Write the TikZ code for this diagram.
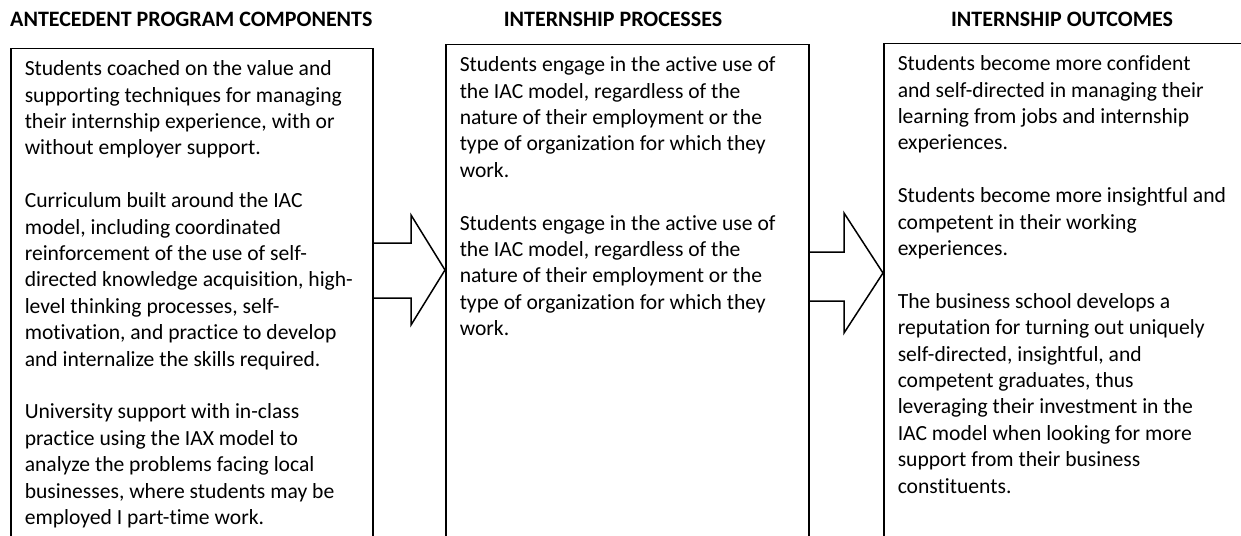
\documentclass[tikz,border=0pt]{standalone}
\usepackage{fontspec}
\setmainfont[Ligatures=NoCommon]{Carlito}
\usetikzlibrary{calc}

% column boxes run off the bottom of the page, so the minipage is taller than the page
\newcommand{\coltext}[2]{%
  \begin{minipage}[t][640pt][t]{#1}\fontsize{21.6}{26.4}\selectfont\raggedright #2\end{minipage}}
\newcommand{\pgap}{\\[26.4pt]}

\tikzset{
  colbox/.style={draw, line width=1.5pt, anchor=north west, inner xsep=14pt, inner ysep=12pt},
  colhead/.style={font=\bfseries\fontsize{22}{26}\selectfont, inner sep=0pt},
  blockarrow/.style={draw, line width=1.5pt, line join=miter},
}

\begin{document}
\begin{tikzpicture}[x=1pt, y=-1pt]
    \useasboundingbox (0,0) rectangle (1241,535);

    % headings
    \node[colhead, anchor=base west] (ante_head) at (10,27) {ANTECEDENT PROGRAM COMPONENTS};
    \node[colhead, anchor=base] (proc_head) at (613,27) {INTERNSHIP PROCESSES};
    \node[colhead, anchor=base] (outc_head) at (1062,27) {INTERNSHIP OUTCOMES};

    % antecedents
    \node[colbox] (ante) at (10,48)
    {\coltext{334pt}{%
    Students coached on the value and\\
    supporting techniques for managing\\
    their internship experience, with or\\
    without employer support.\pgap
    Curriculum built around the IAC\\
    model, including coordinated\\
    reinforcement of the use of self-\\
    directed knowledge acquisition, high-\\
    level thinking processes, self-\\
    motivation, and practice to develop\\
    and internalize the skills required.\pgap
    University support with in-class\\
    practice using the IAX model to\\
    analyze the problems facing local\\
    businesses, where students may be\\
    employed I part-time work.}};

    % processes
    \node[colbox] (proc) at (445,44)
    {\coltext{335pt}{%
    Students engage in the active use of\\
    the IAC model, regardless of the\\
    nature of their employment or the\\
    type of organization for which they\\
    work.\pgap
    Students engage in the active use of\\
    the IAC model, regardless of the\\
    nature of their employment or the\\
    type of organization for which they\\
    work.}};

    % outcomes
    \node[colbox] (outc) at (883,43)
    {\coltext{345pt}{%
    Students become more confident\\
    and self-directed in managing their\\
    learning from jobs and internship\\
    experiences.\pgap
    Students become more insightful and\\
    competent in their working\\
    experiences.\pgap
    The business school develops a\\
    reputation for turning out uniquely\\
    self-directed, insightful, and\\
    competent graduates, thus\\
    leveraging their investment in the\\
    IAC model when looking for more\\
    support from their business\\
    constituents.}};

    % block arrows between the columns
    \coordinate (tip_a) at (proc.north west |- 0,270);
    \coordinate (tip_b) at (outc.north west |- 0,273);
    \draw[blockarrow] (ante.north east |- 0,243) -- ($(tip_a)+(-34,-27)$) -- ($(tip_a)+(-34,-55)$)
        -- (tip_a) -- ($(tip_a)+(-34,55)$) -- ($(tip_a)+(-34,28)$) -- (ante.north east |- 0,298);
    \draw[blockarrow] (proc.north east |- 0,252) -- ($(tip_b)+(-39,-21)$) -- ($(tip_b)+(-39,-60)$)
        -- (tip_b) -- ($(tip_b)+(-39,60)$) -- ($(tip_b)+(-39,28)$) -- (proc.north east |- 0,301);
\end{tikzpicture}
\end{document}
